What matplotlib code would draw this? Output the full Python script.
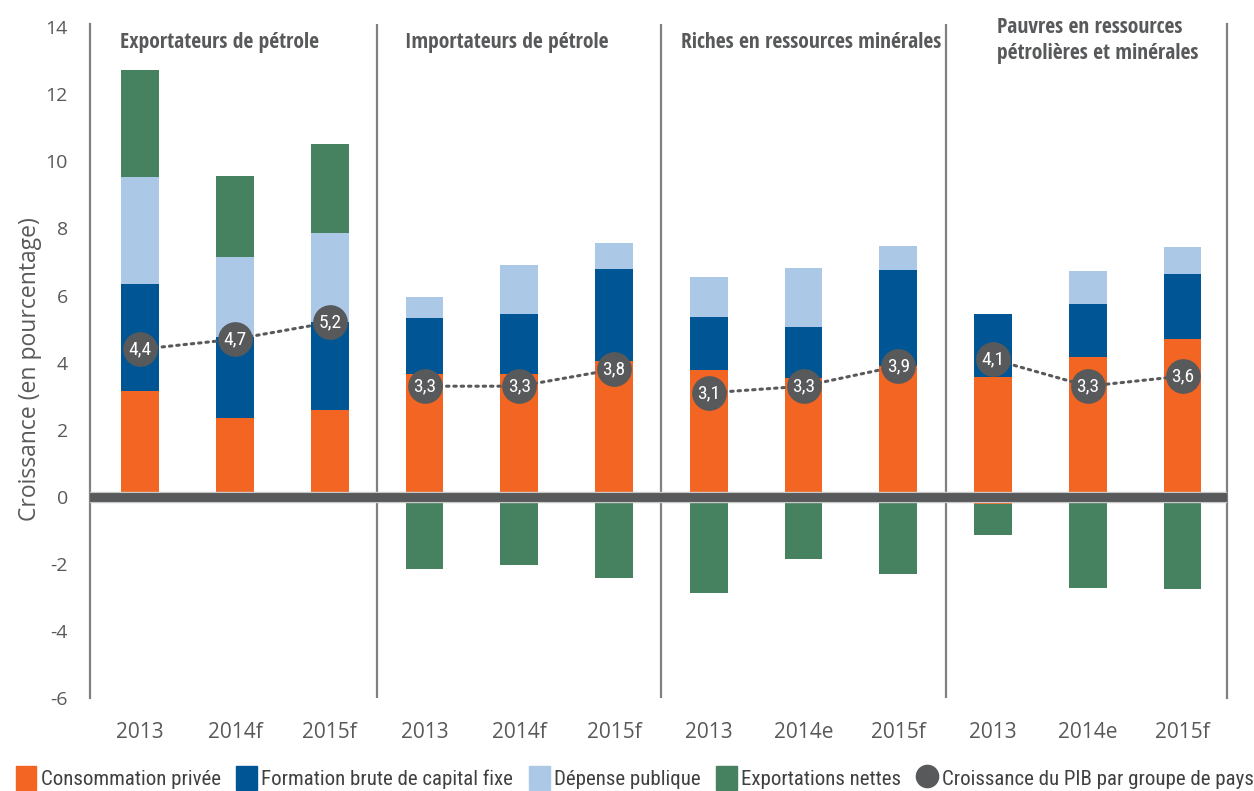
import numpy as np
import matplotlib
matplotlib.use("Agg")
import matplotlib.pyplot as plt
from matplotlib import font_manager as fm
from matplotlib.patches import Patch
from matplotlib.lines import Line2D

# ---------------- data ----------------
categories = ["2013", "2014f", "2015f", "2013", "2014f", "2015f",
              "2013", "2014e", "2015f", "2013", "2014e", "2015f"]
groups = ["Exportateurs de pétrole", "Importateurs de pétrole",
          "Riches en ressources minérales",
          "Pauvres en ressources\npétrolières et minérales"]
consommation = [3.16, 2.35, 2.59, 3.66, 3.66, 4.05, 3.78, 3.54, 3.90, 3.57, 4.17, 4.70]
consommation_neg = [0, 0, 0, 0, 0, 0, 0, 0, 0, -0.20, 0, 0]
fbcf = [3.18, 2.42, 2.62, 1.67, 1.79, 2.74, 1.58, 1.52, 2.86, 1.87, 1.58, 1.94]
depense = [3.19, 2.38, 2.65, 0.63, 1.46, 0.78, 1.19, 1.76, 0.72, 0.00, 0.98, 0.81]
exportations = [3.19, 2.41, 2.66, -2.14, -2.03, -2.41, -2.86, -1.85, -2.29, -0.92, -2.70, -2.73]
croissance = [4.4, 4.7, 5.2, 3.3, 3.3, 3.8, 3.1, 3.3, 3.9, 4.1, 3.3, 3.6]
yticks = [-6, -4, -2, 0, 2, 4, 6, 8, 10, 12, 14]
legend_labels = ["Consommation privée", "Formation brute de capital fixe",
                 "Dépense publique", "Exportations nettes",
                 "Croissance du PIB par groupe de pays"]

# ---------------- style ----------------
ORANGE = "#F26522"
BLUE = "#005694"
LIGHT = "#ABC8E7"
GREEN = "#478260"
DARK = "#58595B"
AXGRAY = "#808080"
TXT = "#595959"


def weight_num(wt):
    if isinstance(wt, (int, float)):
        return wt
    return fm.weight_dict.get(str(wt).lower(), 400)


def find_condensed(bold):
    """Look for an installed condensed/narrow font file; return its path or None."""
    best, best_score = None, None
    for f in fm.fontManager.ttflist:
        label = (f.name + " " + f.fname.split("/")[-1]).lower()
        flat = label.replace("-", "").replace(" ", "")
        st_s = str(f.stretch).lower()
        if "semicondensed" in flat or "semi-condensed" in st_s:
            level = 2
        elif "extracondensed" in flat or "extra-condensed" in st_s or "ultra" in label:
            level = 3
        elif "condensed" in label or "narrow" in label or st_s == "condensed":
            level = 1
        else:
            continue
        if str(f.style).lower() != "normal":
            continue
        w = weight_num(f.weight)
        if bold and not (600 <= w <= 800):
            continue
        if not bold and not (350 <= w <= 450):
            continue
        if "mono" in label or ("serif" in label and "sans" not in label):
            continue
        pref = 9
        for i, fam in enumerate(["noto sans", "open sans", "roboto", "dejavu sans", "liberation"]):
            if fam in label:
                pref = i
                break
        score = (level, abs(w - (700 if bold else 400)), pref)
        if best_score is None or score < best_score:
            best, best_score = f.fname, score
    return best


COND_R = find_condensed(False)
COND_B = find_condensed(True)


def fp(size, bold=False):
    path = COND_B if bold else COND_R
    if path:
        return fm.FontProperties(fname=path, size=size)
    return fm.FontProperties(family="DejaVu Sans", size=size * 0.86,
                             weight="bold" if bold else "normal")


REG = "Open Sans"

fig = plt.figure(figsize=(12.54, 7.91), dpi=100)
ax = fig.add_axes([0.0718, 0.1171, 0.9067, 0.8530])

x = np.arange(len(categories))
cons = np.array(consommation)
cneg = np.array(consommation_neg)
fb = np.array(fbcf)
dep = np.array(depense)
exp_ = np.array(exportations)
w = 0.4

ax.bar(x, cons, width=w, color=ORANGE, zorder=2, linewidth=0)
ax.bar(x, cneg, width=w, color=ORANGE, zorder=2, linewidth=0)
ax.bar(x, fb, width=w, bottom=cons, color=BLUE, zorder=2, linewidth=0)
ax.bar(x, dep, width=w, bottom=cons + fb, color=LIGHT, zorder=2, linewidth=0)
exp_bottom = np.where(exp_ > 0, cons + fb + dep, cneg)
ax.bar(x, exp_, width=w, bottom=exp_bottom, color=GREEN, zorder=2, linewidth=0)

# zero line
ax.axhline(0, color="#C8C8C8", lw=8.2, zorder=3)
ax.axhline(0, color=DARK, lw=6.4, zorder=3)

# group separators
for sep in [2.5, 5.5, 8.5]:
    ax.axvline(sep, color=AXGRAY, lw=1.6, zorder=1)

# GDP growth dots and dotted lines
gr = np.array(croissance)
for g in range(4):
    idx = slice(3 * g, 3 * g + 3)
    ax.plot(x[idx], gr[idx], color=DARK, lw=2.2, ls=(0, (0.8, 1.6)),
            dash_capstyle="round", zorder=4)
    ax.scatter(x[idx], gr[idx], s=25 ** 2, color=DARK, zorder=5, linewidths=0)
for xi, v in zip(x, gr):
    ax.text(xi, v, f"{v:.1f}".replace(".", ","), ha="center", va="center",
            color="white", fontproperties=fp(14), zorder=6)

# group titles (left edges, in pixels)
title_left_px = [120, 405, 680, 996]
for px, t in zip(title_left_px, groups):
    tx = (px - 140) / 94.7
    ax.text(tx, 13.6 if "\n" in t else 13.55, t, ha="left", va="center",
            fontproperties=fp(15.5, bold=True), color=DARK, linespacing=1.3)

ax.set_xlim(-0.53, 11.47)
ax.set_ylim(-6, 14.1)
ax.set_xticks(x)
ax.set_xticklabels(categories, fontsize=15, color=TXT, family=REG)
ax.set_yticks(yticks)
ax.set_yticklabels([str(t) for t in yticks], fontsize=14, color=TXT, family=REG)
ax.tick_params(axis="both", length=0)
ax.tick_params(axis="x", pad=17)
ax.tick_params(axis="y", pad=16)

for s in ["top", "bottom"]:
    ax.spines[s].set_visible(False)
for s in ["left", "right"]:
    ax.spines[s].set_color(AXGRAY)
    ax.spines[s].set_linewidth(1.6)

fig.text(30 / 1254, 1 - 369 / 791, "Croissance (en pourcentage)", rotation=90,
         ha="center", va="center", fontsize=16.5, color=TXT, family=REG)

handles = [Patch(color=ORANGE), Patch(color=BLUE), Patch(color=LIGHT), Patch(color=GREEN),
           Line2D([], [], marker="o", ls="none", color=DARK, markersize=16)]
fig.legend(handles, legend_labels, loc="lower center", bbox_to_anchor=(0.506, -0.022),
           ncol=5, frameon=False, handlelength=1.0, handleheight=1.35, handletextpad=0.2,
           columnspacing=0.75, prop=fp(15), labelcolor="#404040")

fig.savefig("out.png", dpi=100)
